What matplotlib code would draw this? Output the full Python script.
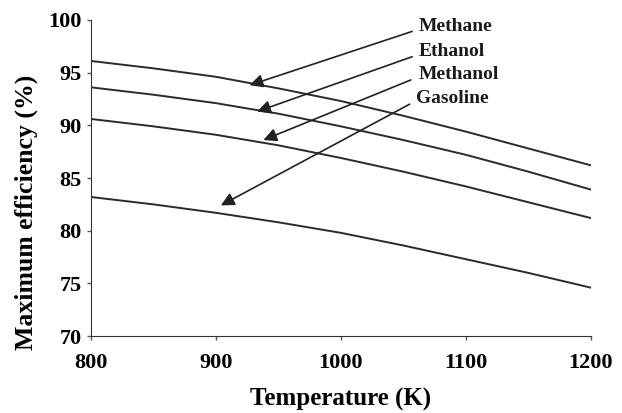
import matplotlib
matplotlib.use('Agg')
import matplotlib.pyplot as plt

temps = [800, 850, 900, 950, 1000, 1050, 1100, 1150, 1200]
methane = [96.1, 95.4, 94.6, 93.5, 92.3, 90.9, 89.4, 87.8, 86.2]
ethanol = [93.6, 92.9, 92.1, 91.1, 89.9, 88.6, 87.2, 85.6, 83.9]
methanol = [90.6, 89.9, 89.1, 88.1, 86.9, 85.6, 84.2, 82.7, 81.2]
gasoline = [83.2, 82.5, 81.7, 80.8, 79.8, 78.6, 77.3, 76.0, 74.6]

names = ['Methane', 'Ethanol', 'Methanol', 'Gasoline']
# label position, arrow start and arrow tip (T, efficiency)
label_xy = [(1062, 99.4), (1062, 97.0), (1062, 94.8), (1060, 92.5)]
arrow_start = [(1057, 98.9), (1057, 96.5), (1056, 94.3), (1055, 92.0)]
arrow_tip = [(927, 93.8), (933, 91.3), (938, 88.6), (904, 82.4)]

plt.rcParams['font.family'] = ['Liberation Serif', 'DejaVu Serif']
plt.rcParams['font.weight'] = 'bold'

fig = plt.figure(figsize=(6.22, 4.13), dpi=100)
ax = fig.add_axes([0.146, 0.186, 0.804, 0.766])

for s in [methane, ethanol, methanol, gasoline]:
    ax.plot(temps, s, color='#2a2a2a', lw=1.4)

for name, lxy, st, tip in zip(names, label_xy, arrow_start, arrow_tip):
    ax.text(lxy[0], lxy[1], name, fontsize=14, fontweight='bold',
            va='center', ha='left', color='#1a1a1a')
    ax.annotate('', xy=tip, xytext=st,
                arrowprops=dict(arrowstyle='-|>', color='#222222', lw=1.2,
                                mutation_scale=20, shrinkA=0, shrinkB=0))

ax.set_xlim(800, 1200)
ax.set_ylim(70, 100)
ax.set_xticks([800, 900, 1000, 1100, 1200])
ax.set_yticks([70, 75, 80, 85, 90, 95, 100])
ax.tick_params(labelsize=16, length=3, width=1, color='#555555')
ax.tick_params(axis='x', pad=9)
for lbl in ax.get_xticklabels() + ax.get_yticklabels():
    lbl.set_fontweight('bold')
ax.spines['top'].set_visible(False)
ax.spines['right'].set_visible(False)
ax.spines['left'].set_color('#333333')
ax.spines['bottom'].set_color('#333333')
ax.set_xlabel('Temperature (K)', fontsize=18, fontweight='bold')
ax.set_ylabel('Maximum efficiency (%)', fontsize=18.5, fontweight='bold')
ax.xaxis.set_label_coords(0.5, -0.165)
ax.yaxis.set_label_coords(-0.105, 0.39)

fig.savefig('out.png', dpi=100)
